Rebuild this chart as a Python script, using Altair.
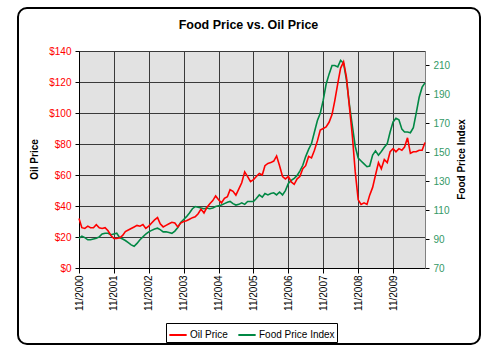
import altair as alt
import pandas as pd

chart_title = "Food Price vs. Oil Price"
left_title = "Oil Price"
right_title = "Food Price Index"
series_names = ["Oil Price", "Food Price Index"]
series_colors = ["#ff0000", "#008844"]

start_month = "2000-11-01"
n_months = 120

oil_price = [
    32, 26, 25.5, 27, 26, 26, 28, 26, 25.5, 26, 24, 21,
    19, 19, 19.5, 21, 23.5, 24.5, 25.5, 26.5, 27.5, 27, 28, 25.5,
    27, 29, 31, 32.5, 28.5, 26.5, 27.5, 28.5, 29.5, 29, 26.5, 29,
    30, 30.5, 31.5, 32.5, 33, 35, 38, 35.5, 39, 41.5, 43.5, 46.5,
    44, 42, 45, 46, 50.5, 49.5, 47, 51, 55, 62, 59, 55.7,
    57, 59, 61, 60, 66, 67.5, 68, 69, 72.3, 66, 59, 57.5,
    59, 55.5, 54, 57.5, 59, 64, 66, 72, 71, 76, 82, 89,
    90, 91, 94, 99, 108, 119, 129, 133, 123, 104, 85, 62,
    44, 41, 42, 41, 47, 52, 60, 68, 64, 70, 68, 75,
    77, 75, 77, 76, 78, 84, 74, 75, 75, 76, 76, 81,
]

food_index = [
    90.5, 92, 91, 89.5, 89.5, 90, 90.5, 91.5, 93.5, 94, 94, 93,
    93.5, 94, 91, 90, 89, 87.5, 86, 85, 87, 89.5, 91.5, 93.5,
    95, 96, 97, 97.5, 96.5, 95, 95, 94.5, 94, 95.5, 98, 101.5,
    103.5, 105.5, 108, 111, 112.5, 112, 111.5, 111, 111.5, 111, 111.5, 112.5,
    113, 113.5, 114.5, 115.5, 116, 114.5, 113.5, 114, 115, 114, 116, 116,
    116, 118, 120.5, 119, 121.5, 120.5, 121.5, 122, 120.5, 122.5, 120.5, 123.5,
    128.5, 130.5, 132, 134, 137, 141, 147, 152, 156, 164, 172, 177,
    186, 197, 204, 210, 210, 209, 213.5, 211.5, 200, 183, 168, 154,
    146, 144, 142, 140, 140.5, 148, 151, 148, 150.5, 153.5, 156, 164,
    171, 173.5, 172.5, 166, 164, 164, 163.5, 167, 177, 188, 195, 198,
]

oil_ticks = [0, 20, 40, 60, 80, 100, 120, 140]
food_ticks = [70, 90, 110, 130, 150, 170, 190, 210]
tick_years = list(range(2000, 2010))

dates = pd.date_range(start_month, periods=n_months, freq="MS")
df = pd.concat([
    pd.DataFrame({"date": dates, "series": series_names[0], "value": oil_price}),
    pd.DataFrame({"date": dates, "series": series_names[1], "value": food_index}),
])

FONT = "Liberation Sans"
W, H = 346, 217

year_ticks = [alt.DateTime(year=y, month=11, date=1) for y in tick_years]
x_dom = [alt.DateTime(year=2000, month=11, date=1),
         alt.DateTime(year=2010, month=10, date=1)]

x_axis = alt.Axis(
    values=year_ticks, format="%m/%Y", labelAngle=270, title=None,
    grid=True, gridColor="#3a3a3a", gridWidth=1, tickSize=5,
    labelPadding=2, labelFontSize=10, labelFont=FONT,
    labelColor="#000000", domainColor="#000000", tickColor="#000000",
    labelOverlap=False, orient="bottom",
)
x_enc = alt.X("date:T", scale=alt.Scale(domain=x_dom), axis=x_axis)

color_enc = alt.Color(
    "series:N",
    scale=alt.Scale(domain=series_names, range=series_colors),
    legend=alt.Legend(
        orient="none", legendX=87, legendY=272, direction="horizontal",
        title=None, symbolType="stroke", symbolSize=300, symbolStrokeWidth=2,
        labelFontSize=10, labelFont=FONT, labelColor="#000000",
        strokeColor="#000000", fillColor="#ffffff", padding=2,
        columnPadding=6, labelOffset=2, symbolOffset=0,
    ),
)

oil_layer = alt.Chart(df).transform_filter(
    alt.datum.series == series_names[0]
).mark_line(strokeWidth=1.6).encode(
    x=x_enc,
    y=alt.Y(
        "value:Q",
        scale=alt.Scale(domain=[0, 140], nice=False),
        axis=alt.Axis(
            values=oil_ticks, format="$.0f", title=None, orient="left",
            grid=True, gridColor="#3a3a3a", gridWidth=1, tickSize=4,
            labelPadding=4, labelFontSize=10, labelFont=FONT,
            labelColor="#ff0000", domainColor="#000000", tickColor="#000000",
        ),
    ),
    color=color_enc,
)

food_layer = alt.Chart(df).transform_filter(
    alt.datum.series == series_names[1]
).mark_line(strokeWidth=1.6).encode(
    x=x_enc,
    y=alt.Y(
        "value:Q",
        scale=alt.Scale(domain=[70, 220], nice=False),
        axis=alt.Axis(
            values=food_ticks, title=None, orient="right", grid=False,
            tickSize=4, labelPadding=4, labelFontSize=10, labelFont=FONT,
            labelColor="#339966", domainColor="#808080", tickColor="#000000",
        ),
    ),
    color=color_enc,
)

frame = alt.Chart(pd.DataFrame({"k": [0]})).mark_rect(
    fillOpacity=0, stroke="#000000", strokeWidth=2, cornerRadius=9
).encode(
    x=alt.value(18 - 79), x2=alt.value(480 - 79),
    y=alt.value(8 - 51), y2=alt.value(344 - 51),
)

title_text = alt.Chart(pd.DataFrame({"t": [chart_title]})).mark_text(
    font=FONT, fontSize=12.5, fontWeight="bold", color="#000000",
    align="center", baseline="alphabetic",
).encode(x=alt.value(248.5 - 79), y=alt.value(29 - 51), text="t:N")

left_text = alt.Chart(pd.DataFrame({"t": [left_title]})).mark_text(
    font=FONT, fontSize=10, fontWeight="bold", color="#000000",
    align="center", baseline="middle", angle=270,
).encode(x=alt.value(35 - 79), y=alt.value(159.5 - 51), text="t:N")

right_text = alt.Chart(pd.DataFrame({"t": [right_title]})).mark_text(
    font=FONT, fontSize=10, fontWeight="bold", color="#000000",
    align="center", baseline="middle", angle=270,
).encode(x=alt.value(462 - 79), y=alt.value(159.5 - 51), text="t:N")

chart = alt.layer(
    frame, food_layer, oil_layer, title_text, left_text, right_text
).resolve_scale(
    y="independent"
).properties(
    width=W, height=H,
    padding={"left": 79, "top": 51, "right": 75, "bottom": 85},
    autosize=alt.AutoSizeParams(type="none"),
    background="#ffffff",
    view=alt.ViewBackground(fill="#e2e2e2", stroke="#808080", strokeWidth=1),
).configure(font=FONT)

chart.save("out.html", embed_options={"renderer": "svg", "actions": False})
